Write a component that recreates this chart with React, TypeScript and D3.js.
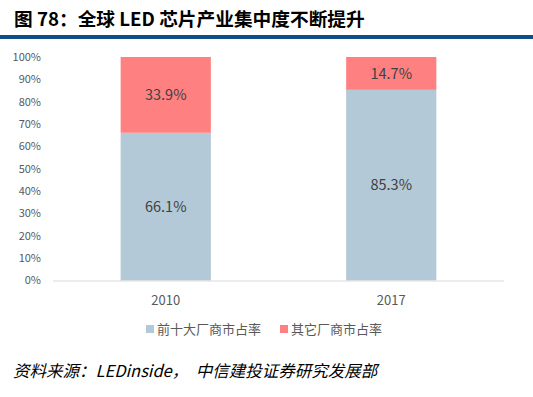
import { useEffect, useRef } from "react"
import * as d3 from "d3"

const years = ["2010", "2017"]
const top10Share = [66.1, 85.3]
const otherShare = [33.9, 14.7]
const seriesNames = ["前十大厂商市占率", "其它厂商市占率"]
const yTicks = [0, 10, 20, 30, 40, 50, 60, 70, 80, 90, 100]

const colors = ["#b4c9d7", "#ff8080"]
const font = "'Noto Sans CJK SC', 'Noto Sans', sans-serif"

const App = () => {
  const svgRef = useRef<SVGSVGElement | null>(null)

  useEffect(() => {
    const width = 533
    const height = 397
    const svg = d3.select(svgRef.current)
      .attr("width", width)
      .attr("height", height)
    svg.selectAll("*").remove()

    // title
    svg.append("text")
      .attr("x", 14)
      .attr("y", 26)
      .attr("font-family", font)
      .attr("font-weight", "bold")
      .attr("font-size", 18.7)
      .attr("fill", "#000")
      .text("图 78：全球 LED 芯片产业集中度不断提升")

    svg.append("rect")
      .attr("x", 0).attr("y", 35)
      .attr("width", width).attr("height", 4)
      .attr("fill", "#0f4f86")

    const x = d3.scaleBand().domain(years).range([53, 504]).paddingInner(0.6).paddingOuter(0.3)
    const y = d3.scaleLinear().domain([0, 100]).range([280.5, 57])

    const data = years.map((yr, i) => ({ year: yr, values: [top10Share[i], otherShare[i]] }))
    const stack = d3.stack<{ year: string, values: number[] }, number>()
      .keys([0, 1])
      .value((d, k) => d.values[k])
    const stacked = stack(data)

    // y tick labels
    svg.append("g").selectAll("text")
      .data(yTicks)
      .enter()
      .append("text")
      .attr("x", 41)
      .attr("y", d => y(d))
      .attr("dy", "0.35em")
      .attr("text-anchor", "end")
      .attr("font-family", font)
      .attr("font-size", 11)
      .attr("fill", "#595959")
      .text(d => d + "%")

    // bars
    stacked.forEach((layer, k) => {
      svg.append("g").selectAll("rect")
        .data(layer)
        .enter()
        .append("rect")
        .attr("x", d => x(d.data.year)!)
        .attr("width", x.bandwidth())
        .attr("y", d => y(d[1]))
        .attr("height", d => y(d[0]) - y(d[1]))
        .attr("fill", colors[k])

      svg.append("g").selectAll("text")
        .data(layer)
        .enter()
        .append("text")
        .attr("x", d => x(d.data.year)! + x.bandwidth() / 2)
        .attr("y", d => (y(d[0]) + y(d[1])) / 2)
        .attr("dy", "0.35em")
        .attr("text-anchor", "middle")
        .attr("font-family", font)
        .attr("font-size", 14.5)
        .attr("fill", "#404040")
        .text(d => d.data.values[k].toFixed(1) + "%")
    })

    // x axis line
    svg.append("line")
      .attr("x1", 53).attr("x2", 504)
      .attr("y1", 281).attr("y2", 281)
      .attr("stroke", "#d9d9d9")
      .attr("stroke-width", 1)

    svg.append("g").selectAll("text")
      .data(years)
      .enter()
      .append("text")
      .attr("x", d => x(d)! + x.bandwidth() / 2)
      .attr("y", 305)
      .attr("text-anchor", "middle")
      .attr("font-family", font)
      .attr("font-size", 13)
      .attr("fill", "#595959")
      .text(d => d)

    // legend
    const legendX = [146, 280]
    const legend = svg.append("g").selectAll("g")
      .data(seriesNames)
      .enter()
      .append("g")
      .attr("transform", (_d, i) => `translate(${legendX[i]},329)`)
    legend.append("rect")
      .attr("x", 0).attr("y", -4)
      .attr("width", 8).attr("height", 8)
      .attr("fill", (_d, i) => colors[i])
    legend.append("text")
      .attr("x", 11)
      .attr("dy", "0.35em")
      .attr("font-family", font)
      .attr("font-size", 13)
      .attr("fill", "#595959")
      .text(d => d)

    // source
    svg.append("text")
      .attr("x", 13)
      .attr("y", 377)
      .attr("font-family", font)
      .attr("font-style", "italic")
      .attr("font-size", 16.5)
      .attr("fill", "#000")
      .attr("xml:space", "preserve")
      .style("white-space", "pre")
      .text("资料来源：LEDinside，  中信建投证券研究发展部")
  }, [])

  return <svg ref={svgRef} style={{ position: "absolute", left: 0, top: 0 }}></svg>
}

export default App
